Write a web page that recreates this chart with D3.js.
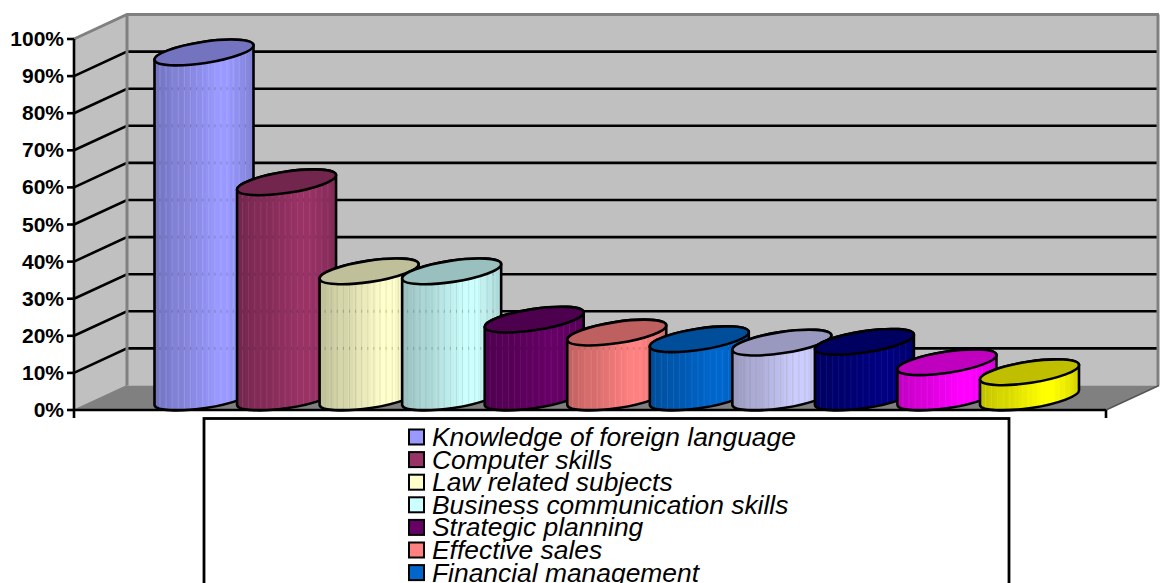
<!DOCTYPE html>
<html>
<head>
<meta charset="utf-8">
<style>
html,body{margin:0;padding:0;background:#fff;overflow:hidden}
svg{display:block}
text{font-family:"Liberation Sans",Arial,sans-serif}
</style>
<script src="https://cdn.jsdelivr.net/npm/d3@7"></script>
</head>
<body>
<svg id="chart" width="1160" height="583"></svg>
<script>
// Survey results: share of respondents per skill area
const skillValues = [93, 58, 34, 34, 21, 17.5, 15.7, 14.8, 15, 9.5, 6.8];
const skillColors = ["#9999ff", "#993366", "#ffffcc", "#ccffff", "#660066", "#ff8080",
                     "#0066cc", "#ccccff", "#000080", "#ff00ff", "#ffff00"];
const legendNames = ["Knowledge of foreign language", "Computer skills", "Law related subjects",
                     "Business communication skills", "Strategic planning", "Effective sales",
                     "Financial management"];
const percentTicks = [0, 10, 20, 30, 40, 50, 60, 70, 80, 90, 100];
// Brightness across a cylinder body, left edge to right edge
const shadeProfile = [0.76, 0.78, 0.8, 0.82, 0.84, 0.84, 0.86, 0.88, 0.9, 0.92, 0.94, 0.96, 0.98, 1, 1, 1, 0.97, 0.94, 0.91, 0.88, 0.85];

const svg = d3.select("#chart");
const defs = svg.append("defs");

const y = d3.scaleLinear().domain([0, 100]).range([410, 39]);
const x = d3.scaleLinear().domain([0, 1]).range([74, 1106]);
const depthX = 53, depthY = -24.5;

// Walls and floor
const plotLeft = x(0), plotRight = x(1), plotBase = y(0), plotTop = y(100);
const poly = pts => pts.map(p => p.join(",")).join(" ");
svg.append("polygon").attr("points", poly([[plotLeft, plotTop], [plotLeft + depthX, plotTop + depthY], [plotLeft + depthX, plotBase + depthY], [plotLeft, plotBase]])).attr("fill", "#c0c0c0");
svg.append("polygon").attr("points", poly([[plotLeft + depthX, plotTop + depthY], [plotRight + depthX, plotTop + depthY], [plotRight + depthX, plotBase + depthY], [plotLeft + depthX, plotBase + depthY]])).attr("fill", "#c0c0c0");
svg.append("polygon").attr("points", poly([[plotLeft, plotBase], [plotLeft + depthX, plotBase + depthY], [plotRight + depthX, plotBase + depthY], [plotRight, plotBase]])).attr("fill", "#808080");

// Gridlines run along the side wall and across the back wall
const grid = svg.append("g").attr("stroke", "#000").attr("stroke-width", 2.6).attr("fill", "none");
percentTicks.filter(t => t > 0 && t < 100).forEach(t => {
  grid.append("polyline").attr("points", poly([[plotLeft, y(t)], [plotLeft + depthX, y(t) + depthY], [plotRight + depthX - 1, y(t) + depthY]]));
});

// Wall outlines
const edges = svg.append("g").attr("stroke", "#808080").attr("fill", "none").attr("stroke-width", 3);
edges.append("polyline").attr("points", poly([[plotLeft, plotTop], [plotLeft + depthX, plotTop + depthY], [plotRight + depthX, plotTop + depthY]]));
edges.append("line").attr("x1", plotLeft + depthX).attr("x2", plotLeft + depthX).attr("y1", plotTop + depthY).attr("y2", plotBase + depthY);
edges.append("line").attr("x1", plotRight + depthX - 1).attr("x2", plotRight + depthX - 1).attr("y1", plotTop + depthY).attr("y2", plotBase + depthY);
edges.append("line").attr("x1", plotLeft).attr("y1", plotBase).attr("x2", plotLeft + depthX).attr("y2", plotBase + depthY).attr("stroke-width", 1.2);
edges.append("line").attr("x1", plotRight).attr("y1", plotBase).attr("x2", plotRight + depthX).attr("y2", plotBase + depthY).attr("stroke", "#555").attr("stroke-width", 1.5);

// Cylinders
const cx = d3.scaleLinear().domain([0, skillValues.length - 1]).range([204, 1029.5]);
const halfW = 49.5, tiltY = 7.5, rx = Math.hypot(halfW, tiltY), ry = 10.6;
const tilt = Math.atan2(-tiltY, halfW) * 180 / Math.PI;
const centerDrop = 12.5;
const arcTo = (sweep, xe, ye) => `A${rx} ${ry} ${tilt} 0 ${sweep} ${xe} ${ye}`;

const stripeOffsets = d3.range(-44, 46, 6.1);

skillValues.forEach((v, i) => {
  const c = cx(i), color = d3.rgb(skillColors[i]);
  const topY = y(v) - centerDrop, botY = y(0) - centerDrop;

  const grad = defs.append("linearGradient").attr("id", "body" + i).attr("x1", 0).attr("x2", 1).attr("y1", 0).attr("y2", 0);
  shadeProfile.forEach((s, k) => {
    const shade = d3.rgb(color.r * s, color.g * s, color.b * s).formatHex();
    grad.append("stop").attr("offset", k / shadeProfile.length).attr("stop-color", shade);
    grad.append("stop").attr("offset", (k + 1) / shadeProfile.length).attr("stop-color", shade);
  });

  const bodyPath = `M${c - halfW} ${topY + tiltY}L${c - halfW} ${botY + tiltY}` +
    arcTo(0, c + halfW, botY - tiltY) + `L${c + halfW} ${topY - tiltY}` +
    arcTo(0, c - halfW, topY + tiltY) + "Z";
  defs.append("clipPath").attr("id", "clip" + i).append("path").attr("d", bodyPath);

  const g = svg.append("g");
  g.append("path").attr("d", bodyPath).attr("fill", `url(#body${i})`);

  // Facet seams and the faint marks left where gridlines pass behind
  const seams = g.append("g").attr("clip-path", `url(#clip${i})`);
  const seamColor = i === 2 || i === 3 || i === 7 ? "#8a8a70" : d3.rgb(Math.min(255, color.r + 70), Math.min(255, color.g + 70), Math.min(255, color.b + 70)).formatHex();
  stripeOffsets.forEach(o => {
    seams.append("line").attr("x1", c + o).attr("x2", c + o).attr("y1", topY - 20).attr("y2", botY + 20)
      .attr("stroke", seamColor).attr("stroke-width", 1).attr("stroke-opacity", 0.2);
    percentTicks.filter(t => t > 0 && t < 100 && y(t) + depthY > topY && y(t) + depthY < 400).forEach(t => {
      seams.append("rect").attr("x", c + o - 0.5).attr("y", y(t) + depthY - 1.5).attr("width", 1).attr("height", 3)
        .attr("fill", "#000").attr("fill-opacity", 0.2);
    });
  });

  g.append("path").attr("d", bodyPath).attr("fill", "none").attr("stroke", "#000").attr("stroke-width", 2.6).attr("stroke-linejoin", "round");
  g.append("ellipse").attr("cx", 0).attr("cy", 0).attr("rx", rx).attr("ry", ry)
    .attr("transform", `translate(${c},${topY}) rotate(${tilt})`)
    .attr("fill", d3.rgb(color.r * 0.75, color.g * 0.75, color.b * 0.75).formatHex())
    .attr("stroke", "#000").attr("stroke-width", 2.6);
});

// Front axes
const axis = svg.append("g").attr("stroke", "#000").attr("stroke-width", 2.6).attr("fill", "none");
axis.append("line").attr("x1", plotLeft).attr("x2", plotLeft).attr("y1", plotTop).attr("y2", plotBase + 8);
axis.append("line").attr("x1", plotLeft).attr("x2", plotRight).attr("y1", plotBase).attr("y2", plotBase);
axis.append("line").attr("x1", plotRight).attr("x2", plotRight).attr("y1", plotBase).attr("y2", plotBase + 8);
percentTicks.forEach(t => {
  axis.append("line").attr("x1", plotLeft - 7).attr("x2", plotLeft).attr("y1", y(t)).attr("y2", y(t));
  svg.append("text").attr("x", 64).attr("y", y(t) + 7).attr("text-anchor", "end")
    .attr("font-size", 21).attr("font-weight", "bold").text(t + "%");
});

// Legend; its lower rows run past the bottom of the page
svg.append("rect").attr("x", 204).attr("y", 418.5).attr("width", 805).attr("height", 240)
  .attr("fill", "#fff").attr("stroke", "#000").attr("stroke-width", 2.8);
const rowY = d3.scaleLinear().domain([0, 1]).range([437, 459.6]);
legendNames.forEach((name, i) => {
  const cy = rowY(i);
  svg.append("rect").attr("x", 409).attr("y", cy - 7.5).attr("width", 15).attr("height", 15)
    .attr("fill", skillColors[i]).attr("stroke", "#000").attr("stroke-width", 2);
  svg.append("text").attr("x", 432).attr("y", cy + 9).attr("font-size", 26.4).attr("font-style", "italic").text(name);
});
</script>
</body>
</html>
